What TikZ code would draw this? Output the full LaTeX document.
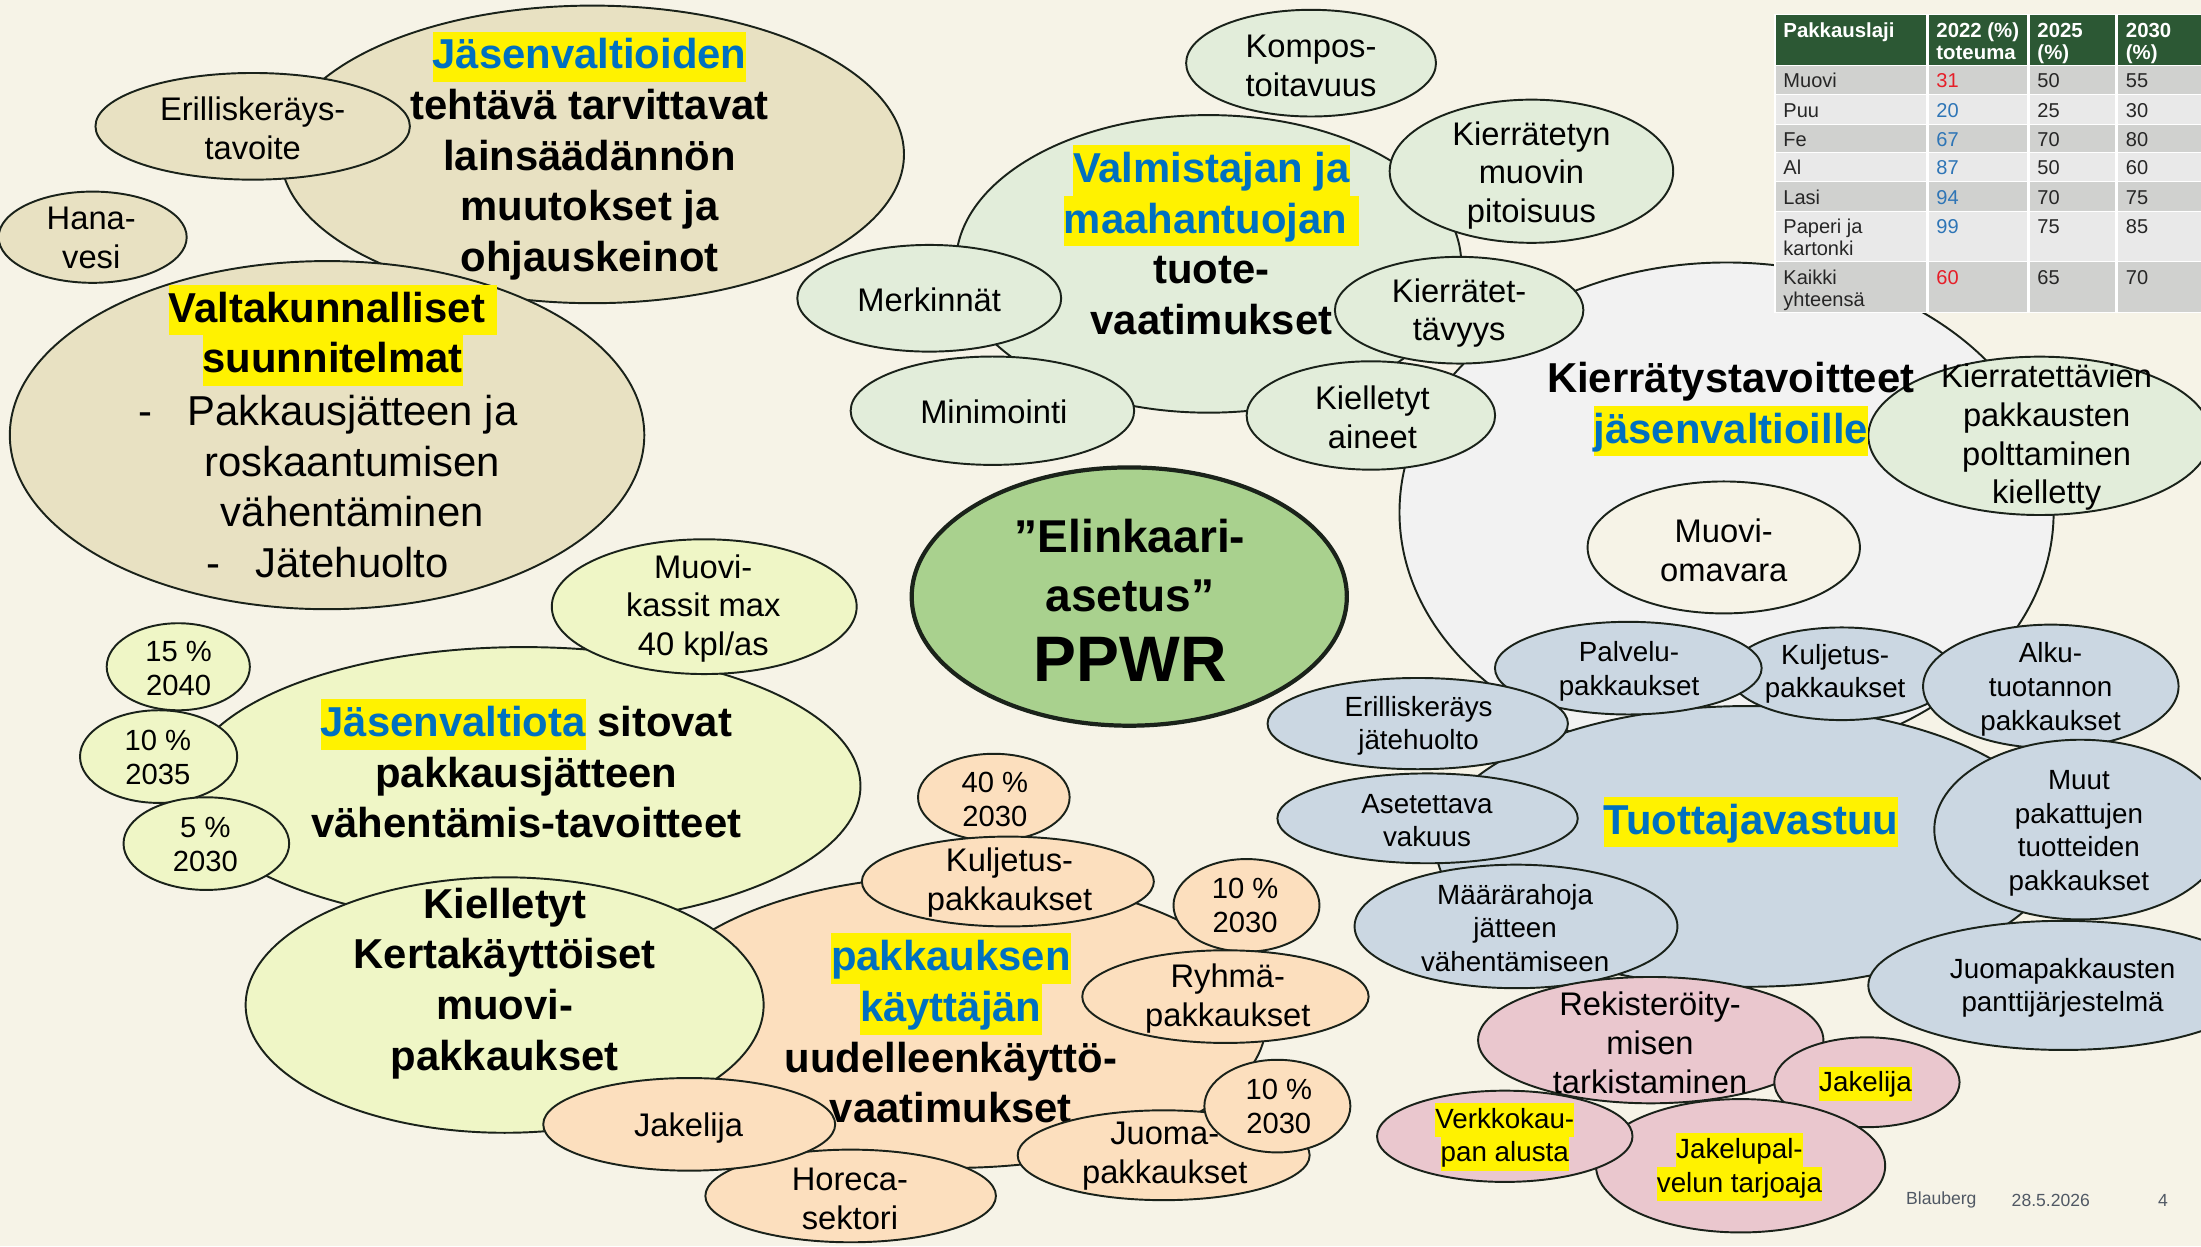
\documentclass[tikz,border=0pt]{standalone}
\usepackage{fontspec}
\setmainfont{Liberation Sans}

\definecolor{bgc}{RGB}{246,243,231}
\definecolor{tanf}{RGB}{232,225,194}
\definecolor{mintf}{RGB}{226,237,218}
\definecolor{greyf}{RGB}{242,242,242}
\definecolor{bluef}{RGB}{203,215,226}
\definecolor{pinkf}{RGB}{234,199,206}
\definecolor{limef}{RGB}{239,246,198}
\definecolor{peachf}{RGB}{252,223,190}
\definecolor{ppwrf}{RGB}{169,209,142}
\definecolor{edge}{RGB}{26,34,26}
\definecolor{hlblue}{RGB}{0,112,192}
\definecolor{hdgreen}{RGB}{44,88,52}
\definecolor{rowdk}{RGB}{208,209,207}
\definecolor{rowlt}{RGB}{233,233,233}
\definecolor{tabink}{RGB}{38,38,38}
\definecolor{tred}{RGB}{230,30,40}
\definecolor{tblue}{RGB}{46,117,182}
\definecolor{footc}{RGB}{80,88,100}

\newcommand\hl[1]{{\setlength{\fboxsep}{0pt}\colorbox{yellow}{\rule[-0.26\baselineskip]{0pt}{\baselineskip}#1}}}
\newcommand\bl[1]{\textcolor{hlblue}{#1}}

\tikzset{
  bub/.style={draw=edge,line width=0.55pt},
  bigtxt/.style={font=\fontsize{11.9}{14.4}\selectfont\bfseries,align=center,inner sep=0pt},
  bodytxt/.style={font=\fontsize{11.9}{14.4}\selectfont,align=center,inner sep=0pt},
  midtxt/.style={font=\fontsize{9.3}{11}\selectfont,align=center,inner sep=0pt},
  smltxt/.style={font=\fontsize{7.9}{9.6}\selectfont,align=center,inner sep=0pt},
  pcttxt/.style={font=\fontsize{8.3}{9.7}\selectfont,align=center,inner sep=0pt},
  tabtxt/.style={font=\fontsize{5.7}{6.2}\selectfont,align=left,inner sep=0pt,anchor=north west,text=tabink},
  foottxt/.style={font=\fontsize{5}{6}\selectfont,text=footc,inner sep=0pt},
}

\begin{document}
\begin{tikzpicture}[x=0.14037mm,y=-0.14037mm]
\clip (0,0) rectangle (1568,888);
\fill[bgc] (0,0) rectangle (1568,888);

% jasenvaltiot / kansallinen taso
\draw[bub,fill=tanf] (422,110) ellipse (222 and 106);
\node[bigtxt] (jvt) at (420,111) {\hl{\bl{Jäsenvaltioiden}}\\tehtävä tarvittavat\\lainsäädännön\\muutokset ja\\ohjauskeinot};
\draw[bub,fill=tanf] (180,90) ellipse (112 and 38);
\node[midtxt] (ekt) at (180,91.5) {Erilliskeräys-\\tavoite};
\draw[bub,fill=tanf] (66,169) ellipse (67 and 32.5);
\node[midtxt] (hnv) at (65,169.5) {Hana-\\vesi};
\draw[bub,fill=tanf] (233,310) ellipse (226 and 124);
\node[bigtxt] (vks) at (237,239) {\hl{Valtakunnalliset\ }\\\hl{suunnitelmat}};
\node[bodytxt] (vkl) at (251,346.5) {\llap{-\hspace{10pt}}Pakkausjätteen ja\\roskaantumisen\\vähentäminen\\\llap{-\hspace{10pt}}Jätehuolto};

% tuotevaatimukset
\draw[bub,fill=mintf] (861,188) ellipse (180 and 106);
\node[bigtxt] (tvm) at (863,171) {\hl{\bl{Valmistajan ja}}\\\hl{\bl{maahantuojan\ }}\\tuote-\\vaatimukset};
\draw[bub,fill=mintf] (934,45) ellipse (89 and 38);
\node[midtxt] (kmp) at (934,47) {Kompos-\\toitavuus};
\draw[bub,fill=mintf] (1091,122) ellipse (101 and 51);
\node[midtxt] (kmv) at (1091,125) {Kierrätetyn\\muovin\\pitoisuus};
\draw[bub,fill=mintf] (662,212.5) ellipse (94 and 38);
\node[midtxt] (mrk) at (662,213.5) {Merkinnät};
\draw[bub,fill=mintf] (707,292.6) ellipse (101 and 38.6);
\node[midtxt] (mnm) at (708,293.3) {Minimointi};

% kierratystavoitteet
\draw[bub,fill=greyf] (1230,365) ellipse (233 and 178);
\draw[bub,fill=bgc] (1228,390) ellipse (97 and 47);
\node[midtxt] (mov) at (1228,392) {Muovi-\\omavara};
\draw[bub,fill=mintf] (1039.5,221) ellipse (88.5 and 38);
\node[midtxt] (krt) at (1039.5,223) {Kierrätet-\\tävyys};
\draw[bub,fill=mintf] (976.6,296) ellipse (88.5 and 38.6);
\node[midtxt] (kla) at (977.7,297.5) {Kielletyt\\aineet};
\draw[bub,fill=mintf] (1453,310.5) ellipse (122 and 56.4);
\node[midtxt] (plt) at (1458,311.6) {Kierratettävien\\pakkausten\\polttaminen\\kielletty};
\node[bigtxt] (ktv) at (1233,291.5) {Kierrätystavoitteet\\\hl{\bl{jäsenvaltioille}}};

% taulukko
\fill[white] (1264,10) rectangle (1568,223);
\foreach \xa/\xb in {1265/1372,1374/1444,1446/1507,1509/1568}
  \fill[hdgreen] (\xa,11) rectangle (\xb,46);
\foreach \ya/\yb/\rc in {47/67/rowdk,68/88/rowlt,89/108/rowdk,109/129/rowlt,130/150/rowdk,151/186/rowlt,187/222/rowdk}
  \foreach \xa/\xb in {1265/1372,1374/1444,1446/1507,1509/1568}
    \fill[\rc] (\xa,\ya) rectangle (\xb,\yb);
\node[tabtxt,text=white,font=\fontsize{5.8}{6.2}\selectfont\bfseries] (hdA) at (1270,15.5) {\strut Pakkauslaji};
\node[tabtxt,text=white,font=\fontsize{5.8}{6.2}\selectfont\bfseries] (hdB) at (1379,15.5) {\strut 2022 (\%)\\toteuma};
\node[tabtxt,text=white,font=\fontsize{5.8}{6.2}\selectfont\bfseries] (hdC) at (1451,15.5) {\strut 2025\\(\%)};
\node[tabtxt,text=white,font=\fontsize{5.8}{6.2}\selectfont\bfseries] (hdD) at (1514,15.5) {\strut 2030\\(\%)};
\foreach \ya/\nm/\va/\ca/\vb/\vc in {47/Muovi/31/tred/50/55,68/Puu/20/tblue/25/30,89/Fe/67/tblue/70/80,109/Al/87/tblue/50/60,130/Lasi/94/tblue/70/75,151/{Paperi ja\\kartonki}/99/tblue/75/85,187/{Kaikki\\yhteensä}/60/tred/65/70}
{
  \node[tabtxt] (nm\ya) at (1270,\ya+4.2) {\strut\nm};
  \node[tabtxt,text=\ca] (va\ya) at (1379,\ya+4.2) {\strut\va};
  \node[tabtxt] (vb\ya) at (1451,\ya+4.2) {\strut\vb};
  \node[tabtxt] (vc\ya) at (1514,\ya+4.2) {\strut\vc};
}

% tuottajavastuu
\draw[bub,fill=bluef] (1245,603) ellipse (222 and 100);
\node[bigtxt] (tjv) at (1247.5,585.5) {\hl{\bl{Tuottajavastuu}}};
\draw[bub,fill=bluef] (1312,480) ellipse (80 and 33);
\node[smltxt] (kjb) at (1307.4,480) {Kuljetus-\\pakkaukset};
\draw[bub,fill=bluef] (1160,476) ellipse (95 and 33);
\node[smltxt] (pvp) at (1160.5,478) {Palvelu-\\pakkaukset};
\draw[bub,fill=bluef] (1010,515.5) ellipse (107 and 32.5);
\node[smltxt] (ejh) at (1010.6,517) {Erilliskeräys\\jätehuolto};
\draw[bub,fill=bluef] (1461,489) ellipse (91 and 44);
\node[smltxt] (alk) at (1460.8,491) {Alku-\\tuotannon\\pakkaukset};
\draw[bub,fill=bluef] (1017,583) ellipse (107 and 32);
\node[smltxt] (asv) at (1016.6,584.6) {Asetettava\\vakuus};
\draw[bub,fill=bluef] (1080,660) ellipse (115 and 44);
\node[smltxt] (mrh) at (1079.4,661) {Määrärahoja\\jätteen\\vähentämiseen};
\draw[bub,fill=bluef] (1482,591) ellipse (104 and 64);
\node[smltxt] (mut) at (1481,593.7) {Muut\\pakattujen\\tuotteiden\\pakkaukset};
\draw[bub,fill=bluef] (1470,702) ellipse (139 and 46);
\node[smltxt] (jpp) at (1469.4,703.7) {Juomapakkausten\\panttijärjestelmä};

% verkkokauppa
\draw[bub,fill=pinkf] (1176,741) ellipse (123 and 45);
\node[midtxt] (rks) at (1175.5,743) {Rekisteröity-\\misen\\tarkistaminen};
\draw[bub,fill=pinkf] (1330,771) ellipse (66 and 32);
\node[smltxt] (jkp) at (1329,772) {\hl{Jakelija}};
\draw[bub,fill=pinkf] (1240,830.5) ellipse (103 and 47.5);
\node[smltxt] (jpt) at (1239.2,831.5) {\hl{Jakelupal-}\\\hl{velun tarjoaja}};
\draw[bub,fill=pinkf] (1072,809.5) ellipse (91 and 32.5);
\node[smltxt] (vka) at (1072,810) {\hl{Verkkokau-}\\\hl{pan alusta}};

% vahentamistavoitteet
\draw[bub,fill=limef] (373,560) ellipse (240 and 99);
\node[bigtxt] (svt) at (375,547.5) {\hl{\bl{Jäsenvaltiota}} sitovat\\pakkausjätteen\\vähentämis-tavoitteet};
\draw[bub,fill=limef] (127,475) ellipse (51 and 31);
\node[pcttxt] (p15) at (127.2,476.5) {15 \%\\2040};
\draw[bub,fill=limef] (113,539) ellipse (56 and 33);
\node[pcttxt] (p10) at (112.5,539.5) {10 \%\\2035};
\draw[bub,fill=limef] (147,601) ellipse (59 and 33);
\node[pcttxt] (p05) at (146.3,601.5) {5 \%\\2030};
\draw[bub,fill=limef] (501.7,432.2) ellipse (108.6 and 48);
\node[midtxt] (mkm) at (501,433.5) {Muovi-\\kassit max\\40 kpl/as};

% uudelleenkaytto
\draw[bub,fill=peachf] (680,728) ellipse (222 and 104);
\node[bigtxt] (ukv) at (677.4,732.5) {\hl{\bl{pakkauksen}}\\\hl{\bl{käyttäjän}}\\uudelleenkäyttö-\\vaatimukset};
\draw[bub,fill=limef] (359.5,716) ellipse (184.5 and 91);
\node[bigtxt] (kkm) at (359.6,700.5) {Kielletyt\\Kertakäyttöiset\\muovi-\\pakkaukset};
\draw[bub,fill=peachf] (708,568) ellipse (54 and 31);
\node[pcttxt] (p40) at (708.7,569.5) {40 \%\\2030};
\draw[bub,fill=peachf] (718,628) ellipse (104 and 32);
\node[midtxt] (kjo) at (719.2,628.5) {Kuljetus-\\pakkaukset};
\draw[bub,fill=peachf] (888,645) ellipse (52 and 33);
\node[pcttxt] (p10a) at (887,645) {10 \%\\2030};
\draw[bub,fill=peachf] (873,710) ellipse (102 and 33);
\node[midtxt] (rhm) at (874.7,711.3) {Ryhmä-\\pakkaukset};
\draw[bub,fill=peachf] (829,823) ellipse (104 and 32);
\node[midtxt] (jmo) at (829.8,823.5) {Juoma-\\pakkaukset};
\draw[bub,fill=peachf] (910,788) ellipse (52 and 33);
\node[pcttxt] (p10b) at (911,788.4) {10 \%\\2030};
\draw[bub,fill=peachf] (606,852) ellipse (103.5 and 33);
\node[midtxt] (hrc) at (605.5,853.9) {Horeca-\\sektori};
\draw[bub,fill=peachf] (491,801) ellipse (104 and 33);
\node[midtxt] (jko) at (490.5,803.6) {Jakelija};

% keskus
\draw[draw=edge,line width=1.2pt,fill=ppwrf] (804.5,425) ellipse (155 and 92);
\node[font=\fontsize{13.1}{16.8}\selectfont\bfseries,align=center,inner sep=0pt] (ela) at (805,403) {”Elinkaari-\\asetus”};
\node[font=\fontsize{18.3}{22}\selectfont\bfseries,inner sep=0pt] (ppw) at (805,470) {PPWR};

% alatunniste
\node[foottxt] (ftA) at (1383,855) {Blauberg};
\node[foottxt] (ftB) at (1461,855) {28.5.2026};
\node[foottxt] (ftC) at (1541,855) {4};
\end{tikzpicture}
\end{document}
